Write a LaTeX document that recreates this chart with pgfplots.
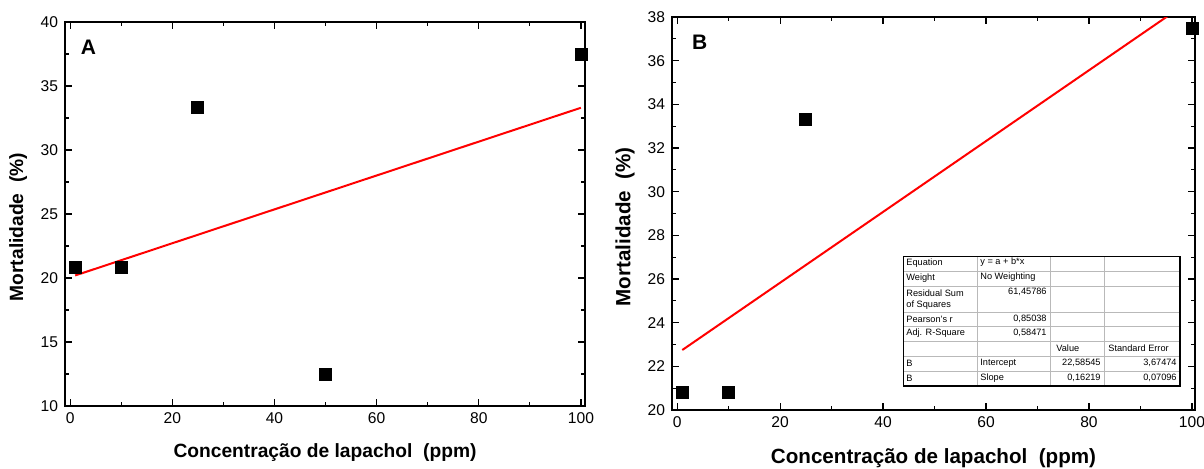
\documentclass[border=0pt]{standalone}
\usepackage{pgfplots}
\pgfplotsset{compat=1.18}
\usepackage{fontspec}
\setmainfont{Liberation Sans}

\pgfplotsset{
  orig/.style={
    scale only axis,
    anchor=south west,
    axis line style={line width=0.75pt},
    tick align=inside,
    major tick length=3.5pt,
    minor tick length=2pt,
    every tick/.style={black, line width=0.6pt},
    tick label style={font=\fontsize{7.8}{9}\selectfont},
    /pgf/number format/assume math mode=true,
    minor x tick num=1,
    minor y tick num=1,
    xtick={0,20,...,100},
  }
}

\begin{document}
\begin{tikzpicture}
\path[use as bounding box] (0,0) rectangle (602pt,234pt);

% panel A
\begin{axis}[orig,
    at={(32.5pt,31pt)},
    width=260pt, height=192pt,
    xmin=-1, xmax=100.8,
    ymin=10, ymax=40,
    ytick={10,15,...,40},
    label style={font=\fontsize{9.6}{11}\selectfont\bfseries},
    xlabel={Concentração de lapachol\ \ (ppm)},
    ylabel={Mortalidade\ \ (\%)},
    x label style={at={(axis description cs:0.5,-0.12)}, anchor=center},
    y label style={at={(axis description cs:-0.09,0.466)}, anchor=center},
]
\addplot[only marks, mark=square*, mark size=3pt, black]
  coordinates {(1,20.8) (10,20.8) (25,33.3) (50,12.5) (100,37.5)};
\addplot[red, line width=1pt] coordinates {(1,20.2) (100,33.3)};
\node[anchor=west, font=\fontsize{10.5}{12}\selectfont\bfseries]
  at (axis description cs:0.017,0.935) {A};
\end{axis}

% panel B
\begin{axis}[orig,
    at={(336pt,29pt)},
    width=261.5pt, height=196.5pt,
    xmin=-1, xmax=100.6,
    ymin=20, ymax=38,
    ytick={20,22,...,38},
    label style={font=\fontsize{10.3}{12}\selectfont\bfseries},
    xlabel={Concentração de lapachol\ \ (ppm)},
    ylabel={Mortalidade\ \ (\%)},
    x label style={at={(axis description cs:0.5,-0.122)}, anchor=center},
    y label style={at={(axis description cs:-0.09,0.466)}, anchor=center},
]
\addplot[only marks, mark=square*, mark size=3pt, black]
  coordinates {(1,20.8) (10,20.8) (25,33.3) (100,37.5)};
\addplot[red, line width=1pt] coordinates {(1,22.748) (100,38.804)};
\node[anchor=west, font=\fontsize{10.5}{12}\selectfont\bfseries]
  at (axis description cs:0.025,0.936) {B};
\end{axis}

% fit results table (pixel coordinates of the reference)
\begin{scope}[x=0.5pt, y=-0.5pt, yshift=234pt,
    every node/.style={font=\fontsize{4.6}{5.4}\selectfont, inner sep=0pt}]
\fill[white] (903,256) rectangle (1180,386);
\foreach \yy in {271,286,312,326,341,356,371}
  \draw[gray!55, line width=0.3pt] (903,\yy) -- (1180,\yy);
\foreach \xx in {977,1050,1104}
  \draw[gray!55, line width=0.3pt] (\xx,256) -- (\xx,386);
\draw[black, line width=0.4pt] (903,386) -- (903,256) -- (1180,256);
\draw[black, line width=0.8pt] (903,386) -- (1180,386) -- (1180,256);
% column 1
\node[anchor=west] at (906,263.5) {Equation};
\node[anchor=west] at (906,278.5) {Weight};
\node[anchor=west] at (906,293) {Residual Sum};
\node[anchor=west] at (906,305) {of Squares};
\node[anchor=west] at (906,319) {Pearson's r};
\node[anchor=west] at (906,333.5) {Adj. R-Square};
\node[anchor=west] at (906,363.5) {B};
\node[anchor=west] at (906,378.5) {B};
% column 2
\node[anchor=west] at (980,262.5) {y = a + b*x};
\node[anchor=west] at (980,277.5) {No Weighting};
\node[anchor=east] at (1047,292) {61,45786};
\node[anchor=east] at (1047,318.5) {0,85038};
\node[anchor=east] at (1047,333) {0,58471};
\node[anchor=west] at (980,363) {Intercept};
\node[anchor=west] at (980,378) {Slope};
% column 3
\node[anchor=west] at (1056,348.5) {Value};
\node[anchor=east] at (1101,363) {22,58545};
\node[anchor=east] at (1101,378) {0,16219};
% column 4
\node[anchor=west] at (1108,348.5) {Standard Error};
\node[anchor=east] at (1177,363) {3,67474};
\node[anchor=east] at (1177,378) {0,07096};
\end{scope}
\end{tikzpicture}
\end{document}
